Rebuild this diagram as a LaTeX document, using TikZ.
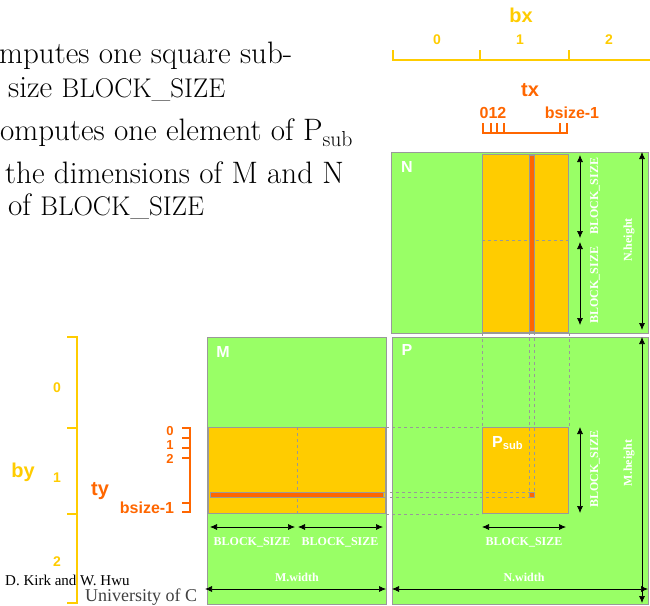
\documentclass[tikz,border=0pt]{standalone}
\usepackage{fontspec}
\usepackage{tikz}
\usetikzlibrary{arrows.meta,positioning,calc}
\newfontfamily\arialfont{Liberation Sans}
\newfontfamily\timesfont{Liberation Serif}
\definecolor{matgreen}{HTML}{99FF66}
\definecolor{blkyellow}{HTML}{FFCC00}
\definecolor{thdorange}{HTML}{FF6600}
\definecolor{edgegrey}{HTML}{999999}
\newcommand{\blocksz}{{\fontsize{27}{27}\selectfont BLOCK\_SIZE}}

\begin{document}
\begin{tikzpicture}[x=1pt, y=-1pt, >={Latex[length=7pt,width=6pt]}]
  \tikzstyle{mat}=[draw=edgegrey,line width=1.2pt,fill=matgreen,anchor=north west,inner sep=0pt]
  \tikzstyle{blk}=[draw=edgegrey,line width=1pt,fill=blkyellow,anchor=north west,inner sep=0pt]
  \tikzstyle{thd}=[draw=edgegrey,line width=0.8pt,fill=thdorange,anchor=north west,inner sep=0pt]
  \tikzstyle{guide}=[edgegrey,line width=0.9pt,dash pattern=on 3pt off 3pt]
  \tikzstyle{dim}=[<->,line width=0.7pt]
  \tikzstyle{dimlbl}=[text=white,font=\timesfont\bfseries\fontsize{12}{12}\selectfont,inner sep=0pt]
  \tikzstyle{matlbl}=[text=white,font=\arialfont\bfseries\fontsize{16}{16}\selectfont,inner sep=0pt]
  \tikzstyle{bxaxis}=[blkyellow,line width=2pt]
  \tikzstyle{txaxis}=[thdorange,line width=2pt]
  \tikzstyle{bxlbl}=[text=blkyellow,font=\arialfont\bfseries\fontsize{14}{14}\selectfont,inner sep=0pt]
  \tikzstyle{txlbl}=[text=thdorange,font=\arialfont\bfseries\fontsize{16}{16}\selectfont,inner sep=0pt]
  \tikzstyle{tydigit}=[text=thdorange,font=\arialfont\bfseries\fontsize{13}{13}\selectfont,inner sep=0pt,text height=9pt,text depth=0pt]
  \tikzstyle{axname}=[font=\arialfont\bfseries\fontsize{20}{20}\selectfont,inner sep=0pt]
  \tikzstyle{bullet}=[anchor=base west,inner sep=0pt,font=\fontsize{31}{31}\selectfont]
  \useasboundingbox (0,0) rectangle (650,605);

  % slide text, cut at the left edge
  \node[bullet] (t1) at (-1,63) {mputes one square sub-};
  \node[bullet] (t2) at (8,97) {size \blocksz};
  \node[bullet] (t3) at (0,140) {omputes one element of P\textsubscript{sub}};
  \node[bullet] (t4) at (5,183) {the dimensions of M and N};
  \node[bullet] (t5) at (8,215) {of \blocksz};

  % footer
  \node[anchor=base west,inner sep=0pt,font=\timesfont\fontsize{15}{15}\selectfont] (kirk) at (5,585) {D. Kirk and W. Hwu};
  \node[anchor=base west,inner sep=0pt,font=\timesfont\fontsize{18}{18}\selectfont,text=black!75] (univ) at (85,601) {University of C};

  % bx and tx
  \draw[bxaxis] (393,50) -- (393,60) -- (650,60) (480,50) -- (480,60) (569,50) -- (569,60);
  \node[axname,text=blkyellow] (bx) at (521,15) {bx};
  \node[bxlbl] (bx0) at (437,40) {0};
  \node[bxlbl] (bx1) at (520,40) {1};
  \node[bxlbl] (bx2) at (609,40) {2};
  \draw[txaxis] (483,123) -- (483,133) -- (567,133) -- (567,123)
    (491,123) -- (491,133) (497,123) -- (497,133) (504,123) -- (504,133) (560,123) -- (560,133);
  \node[axname,text=thdorange] (tx) at (530,90) {tx};
  \node[txlbl] (tx012) at (493,113) {012};
  \node[txlbl] (txlast) at (572,113) {bsize-1};

  % by and ty
  \draw[bxaxis] (67,337) -- (77,337) -- (77,603) -- (67,603) (67,428) -- (77,428) (67,514) -- (77,514);
  \node[axname,text=blkyellow] (by) at (23,472) {by};
  \node[bxlbl] (by0) at (57,388) {0};
  \node[bxlbl] (by1) at (57,478) {1};
  \node[bxlbl] (by2) at (57,562) {2};
  \draw[txaxis] (182,428) -- (190,428) -- (190,512) -- (182,512)
    (182,438) -- (190,438) (182,448) -- (190,448) (182,458) -- (190,458) (182,503) -- (190,503);
  \node[axname,text=thdorange] (ty) at (100,491) {ty};
  \node[tydigit] (ty0) at (170,431) {0};
  \node[tydigit] (ty1) at (170,445) {1};
  \node[tydigit] (ty2) at (170,459) {2};
  \node[txlbl] (tylast) at (147,508) {bsize-1};

  % the three matrices
  \node[mat,minimum width=257,minimum height=181] (N) at (391,152) {};
  \node[mat,minimum width=179,minimum height=267] (M) at (207,337) {};
  \node[mat,minimum width=256,minimum height=267] (P) at (392,337) {};
  \node[matlbl] (Nlbl) at (407,167) {N};
  \node[matlbl] (Mlbl) at (223,352) {M};
  \node[matlbl] (Plbl) at (407,350) {P};

  % blocks and thread rows/columns
  \node[blk,minimum width=86,minimum height=178] (Nblk) at (482,154) {};
  \draw[guide] (482,240) -- (568,240);
  \node[thd,minimum width=5,minimum height=176] (Ncol) at (529,155) {};
  \node[blk,minimum width=177,minimum height=86] (Mblk) at (208,427) {};
  \draw[guide] (297,427) -- (297,513);
  \node[thd,minimum width=173,minimum height=5] (Mrow) at (210,492) {};
  \node[blk,minimum width=86,minimum height=86] (Psub) at (482,427) {};
  \node[thd,minimum width=5,minimum height=5] (Pel) at (529,492) {};
  \node[matlbl,anchor=west] (Psublbl) at (492,443) {P\textsubscript{sub}};

  \draw[guide] (Nblk.south west) -- (Psub.north west);
  \draw[guide] (Nblk.south east) -- (Psub.north east);
  \draw[guide] (Ncol.south west) -- (Pel.north west);
  \draw[guide] (Ncol.south east) -- (Pel.north east);
  \draw[guide] (Mblk.north east) -- (Psub.north west);
  \draw[guide] (Mblk.south east) -- (Psub.south west);
  \draw[guide] (Mrow.north east) -- (Pel.north west);
  \draw[guide] (Mrow.south east) -- (Pel.south west);

  % dimensions
  \coordinate (nb1) at (580,155);
  \coordinate (nb2) at (580,238);
  \coordinate (nb3) at (580,242);
  \coordinate (nb4) at (580,325);
  \coordinate (nh1) at (642,152);
  \coordinate (nh2) at (642,330);
  \draw[dim] (nb1) -- (nb2);
  \draw[dim] (nb3) -- (nb4);
  \draw[dim] (nh1) -- (nh2);
  \node[dimlbl,rotate=90] (nbl1) at (595,196) {BLOCK\_SIZE};
  \node[dimlbl,rotate=90] (nbl2) at (595,285) {BLOCK\_SIZE};
  \node[dimlbl,rotate=90] (nhl) at (629,240) {N.height};

  \coordinate (mb1) at (210,527);
  \coordinate (mb2) at (295,527);
  \coordinate (mb3) at (298,527);
  \coordinate (mb4) at (383,527);
  \coordinate (mw1) at (205,589);
  \coordinate (mw2) at (386,589);
  \draw[dim] (mb1) -- (mb2);
  \draw[dim] (mb3) -- (mb4);
  \draw[dim] (mw1) -- (mw2);
  \node[dimlbl] (mbl1) at (252,542) {BLOCK\_SIZE};
  \node[dimlbl] (mbl2) at (340,542) {BLOCK\_SIZE};
  \node[dimlbl] (mwl) at (297,577) {M.width};

  \coordinate (pv1) at (580,427);
  \coordinate (pv2) at (580,513);
  \coordinate (ph1) at (482,527);
  \coordinate (ph2) at (566,527);
  \coordinate (pw1) at (392,589);
  \coordinate (pw2) at (648,589);
  \coordinate (mh1) at (642,337);
  \coordinate (mh2) at (642,603);
  \draw[dim] (pv1) -- (pv2);
  \draw[dim] (ph1) -- (ph2);
  \draw[dim] (pw1) -- (pw2);
  \draw[dim] (mh1) -- (mh2);
  \node[dimlbl,rotate=90] (pvl) at (595,469) {BLOCK\_SIZE};
  \node[dimlbl] (phl) at (524,542) {BLOCK\_SIZE};
  \node[dimlbl] (pwl) at (524,577) {N.width};
  \node[dimlbl,rotate=90] (mhl) at (629,463) {M.height};
\end{tikzpicture}
\end{document}
